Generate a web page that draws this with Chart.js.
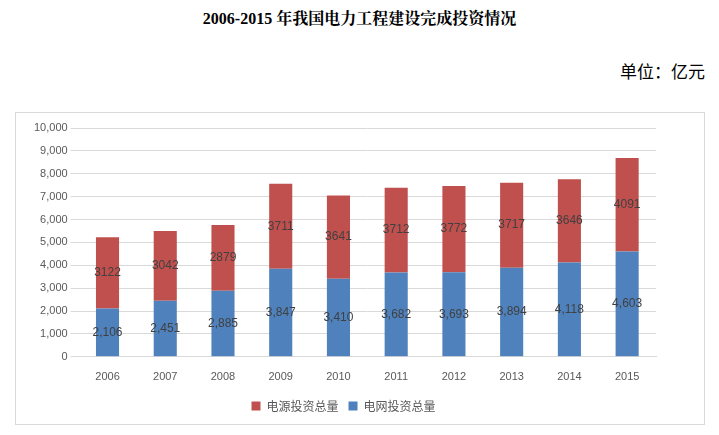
<!DOCTYPE html><html><head><meta charset="utf-8">
<script src="https://cdn.jsdelivr.net/npm/chart.js@4"></script>
<style>body{margin:0;width:719px;height:435px;background:#fff;position:relative;font-family:"Noto Sans CJK SC";}
#t{position:absolute;top:6px;left:0;width:719px;text-align:center;font:bold 16px "Liberation Serif","Noto Serif CJK SC","Noto Sans CJK SC";}
#u{position:absolute;top:58px;right:14px;font-size:17px;}
#box{position:absolute;left:15px;top:112px;width:688px;height:311px;border:1px solid #d9d9d9;}
</style></head><body>
<div id="t">2006-2015 年我国电力工程建设完成投资情况</div>
<div id="u">单位：亿元</div>
<div id="box"><canvas id="c"></canvas></div>
<script>
const years=["2006","2007","2008","2009","2010","2011","2012","2013","2014","2015"];
const grid=[2106,2451,2885,3847,3410,3682,3693,3894,4118,4603];
const power=[3122,3042,2879,3711,3641,3712,3772,3717,3646,4091];
const labelsPlugin={id:'lbl',afterDatasetsDraw(ch){const ctx=ch.ctx;ctx.save();ctx.font='12px "Liberation Sans"';ctx.fillStyle='#404040';ctx.textAlign='center';ctx.textBaseline='middle';
ch.data.datasets.forEach((ds,i)=>{ch.getDatasetMeta(i).data.forEach((b,j)=>{const v=ds.data[j];const y=(b.y+b.base)/2;ctx.fillText(i===0?v.toLocaleString('en-US'):String(v),b.x,y);});});ctx.restore();}};
new Chart(document.getElementById('c'),{type:'bar',data:{labels:years,datasets:[
{label:'电网投资总量',data:grid,backgroundColor:'#4f81bd',barPercentage:0.4,categoryPercentage:1},
{label:'电源投资总量',data:power,backgroundColor:'#c0504d',barPercentage:0.4,categoryPercentage:1}]},
options:{responsive:true,maintainAspectRatio:false,animation:false,layout:{padding:{left:15,right:48,top:15,bottom:2}},
plugins:{legend:{position:'bottom',reverse:true,labels:{boxWidth:9,boxHeight:9,color:'#595959',font:{size:12,family:'"Noto Sans CJK SC"'},padding:10}},tooltip:{enabled:false}},
scales:{x:{stacked:true,grid:{display:false},border:{color:'#d9d9d9'},ticks:{color:'#595959',padding:6,font:{size:11,family:'"Liberation Sans"'}}},
y:{stacked:true,min:0,max:10000,ticks:{stepSize:1000,color:'#595959',font:{size:11,family:'"Liberation Sans"'},callback:v=>v.toLocaleString('en-US')},grid:{color:'#d9d9d9'},border:{display:false}}}},plugins:[labelsPlugin]});
</script></body></html>
